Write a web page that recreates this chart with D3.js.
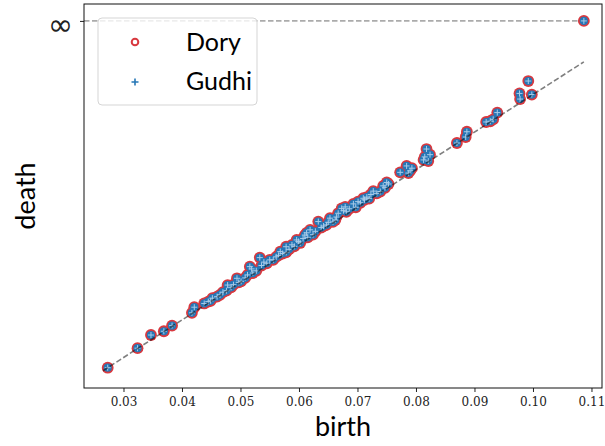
<!DOCTYPE html>
<html>
<head>
<meta charset="utf-8">
<script src="https://cdn.jsdelivr.net/npm/d3@7"></script>
<style>
  body { margin: 0; background: #fff; }
  svg { display: block; }
</style>
</head>
<body>
<div id="chart"></div>
<script>
// persistence pairs (finite ones)
const births = [0.0273, 0.0324, 0.0347, 0.0369, 0.0383, 0.0417, 0.0421, 0.0438, 0.0445, 0.0449,
    0.0460, 0.0465, 0.0476, 0.0478, 0.0484, 0.0494, 0.0501, 0.0508, 0.0516, 0.0521,
    0.0527, 0.0533, 0.0540, 0.0550, 0.0556, 0.0561, 0.0568, 0.0578, 0.0578, 0.0588,
    0.0592, 0.0596, 0.0602, 0.0607, 0.0610, 0.0615, 0.0619, 0.0624, 0.0633, 0.0638,
    0.0647, 0.0653, 0.0658, 0.0662, 0.0667, 0.0673, 0.0679, 0.0681, 0.0693, 0.0697,
    0.0701, 0.0710, 0.0716, 0.0720, 0.0727, 0.0733, 0.0739, 0.0744, 0.0750, 0.0753,
    0.0773, 0.0784, 0.0787, 0.0793, 0.0813, 0.0815, 0.0818, 0.0821, 0.0870, 0.0885,
    0.0887, 0.0920, 0.0927, 0.0932, 0.0939, 0.0977, 0.0978, 0.0992, 0.0998,
    0.0452, 0.0470, 0.0488, 0.0497, 0.0512, 0.0519, 0.0536, 0.0545, 0.0565, 0.0572,
    0.0583, 0.0599, 0.0613, 0.0628, 0.0642, 0.0650, 0.0664, 0.0676, 0.0686, 0.0705,
    0.0712, 0.0723, 0.0747, 0.0790, 0.0824];
const deaths = [0.0273, 0.0325, 0.0360, 0.0370, 0.0385, 0.0419, 0.0434, 0.0444, 0.0449, 0.0451,
    0.0462, 0.0467, 0.0478, 0.0493, 0.0487, 0.0511, 0.0503, 0.0512, 0.0542, 0.0525,
    0.0531, 0.0566, 0.0554, 0.0560, 0.0560, 0.0568, 0.0582, 0.0595, 0.0580, 0.0600,
    0.0596, 0.0613, 0.0605, 0.0617, 0.0626, 0.0620, 0.0640, 0.0627, 0.0662, 0.0646,
    0.0653, 0.0671, 0.0661, 0.0666, 0.0684, 0.0697, 0.0701, 0.0688, 0.0709, 0.0700,
    0.0715, 0.0724, 0.0727, 0.0723, 0.0743, 0.0737, 0.0742, 0.0757, 0.0766, 0.0762,
    0.0793, 0.0810, 0.0791, 0.0804, 0.0826, 0.0834, 0.0855, 0.0823, 0.0871, 0.0887,
    0.0901, 0.0927, 0.0929, 0.0934, 0.0952, 0.1003, 0.0988, 0.1036, 0.1000,
    0.0458, 0.0474, 0.0494, 0.0500, 0.0520, 0.0536, 0.0545, 0.0551, 0.0572, 0.0577,
    0.0588, 0.0609, 0.0632, 0.0636, 0.0650, 0.0660, 0.0674, 0.0691, 0.0696, 0.0712,
    0.0720, 0.0734, 0.0752, 0.0797, 0.0840];
// essential class (dies at infinity)
const infBirths = [0.1087];
const infDeath = 0.1196;   // where "∞" sits on the death axis
const xTicks = [0.03, 0.04, 0.05, 0.06, 0.07, 0.08, 0.09, 0.10, 0.11];
const seriesNames = ["Dory", "Gudhi"];

const W = 605, H = 446;
const margin = { top: 4, right: 3, bottom: 58, left: 84 };

const svg = d3.select("#chart").append("svg")
    .attr("width", W)
    .attr("height", H);

const x = d3.scaleLinear()
    .domain([0.02325, 0.1118])
    .range([margin.left, W - margin.right]);
const y = d3.scaleLinear()
    .domain([0.0219, 0.1241])
    .range([H - margin.bottom, margin.top]);

const red = "#d8393f", blue = "#2677b6";

// points: Dory and Gudhi give the same diagram
let pts = births.map((b, i) => ({ b: b, d: deaths[i] }));
infBirths.forEach(b => pts.push({ b: b, d: infDeath }));

// infinity line
svg.append("line")
    .attr("x1", x.range()[0]).attr("x2", x(infBirths[0]))
    .attr("y1", y(infDeath)).attr("y2", y(infDeath))
    .attr("stroke", "#000")
    .attr("stroke-opacity", 0.33)
    .attr("stroke-width", 1.6)
    .attr("stroke-dasharray", "5.5,2.5");

// Dory rings
svg.append("g").selectAll("circle")
    .data(pts)
    .join("circle")
    .attr("cx", d => x(d.b))
    .attr("cy", d => y(d.d))
    .attr("r", 5.9)
    .attr("fill", red);

svg.append("g").selectAll("circle")
    .data(pts)
    .join("circle")
    .attr("cx", d => x(d.b))
    .attr("cy", d => y(d.d))
    .attr("r", 4.1)
    .attr("fill", blue);

// Gudhi crosses
svg.append("g").selectAll("path")
    .data(pts)
    .join("path")
    .attr("d", d => {
        const cx = x(d.b), cy = y(d.d);
        return `M${cx - 3},${cy}H${cx + 3}M${cx},${cy - 3}V${cy + 3}`;
    })
    .attr("stroke", "#a9cbe8")
    .attr("stroke-width", 1);

// diagonal, drawn over the points
svg.append("line")
    .attr("x1", x(0.0265)).attr("y1", y(0.0265))
    .attr("x2", x(infBirths[0])).attr("y2", y(infBirths[0]))
    .attr("stroke", "#000")
    .attr("stroke-opacity", 0.5)
    .attr("stroke-width", 1.6)
    .attr("stroke-dasharray", "5.5,2.5");

// x axis
const xAxis = svg.append("g")
    .attr("transform", `translate(0,${H - margin.bottom})`)
    .call(d3.axisBottom(x).tickValues(xTicks).tickFormat(d3.format(".2f")).tickSize(4).tickPadding(5.5));
xAxis.select(".domain").remove();
xAxis.selectAll("text")
    .style("font-family", "'DejaVu Serif', 'Liberation Serif', serif")
    .style("font-size", "12px")
    .attr("fill", "#222");
xAxis.selectAll("line").attr("stroke", "#222");

// y axis: only the infinity tick
const yAxis = svg.append("g")
    .attr("transform", `translate(${margin.left},0)`)
    .call(d3.axisLeft(y).tickValues([infDeath]).tickFormat(() => "∞").tickSize(4).tickPadding(7));
yAxis.select(".domain").remove();
yAxis.selectAll("text")
    .attr("dy", "0.46em")
    .style("font-family", "'DejaVu Sans', sans-serif")
    .style("font-size", "30px")
    .attr("fill", "#222");
yAxis.selectAll("line").attr("stroke", "#222");

// frame
svg.append("rect")
    .attr("x", margin.left).attr("y", margin.top)
    .attr("width", W - margin.right - margin.left)
    .attr("height", H - margin.bottom - margin.top)
    .attr("fill", "none")
    .attr("stroke", "#111")
    .attr("stroke-width", 1);

// axis labels
svg.append("text")
    .attr("x", (margin.left + W - margin.right) / 2)
    .attr("y", 436)
    .attr("text-anchor", "middle")
    .style("font-family", "Lato, sans-serif")
    .style("font-size", "27px")
    .text("birth");

svg.append("text")
    .attr("transform", `translate(35,${(margin.top + H - margin.bottom) / 2}) rotate(-90)`)
    .attr("text-anchor", "middle")
    .style("font-family", "Lato, sans-serif")
    .style("font-size", "27px")
    .text("death");

// legend
const legend = svg.append("g");
legend.append("rect")
    .attr("x", 98).attr("y", 18)
    .attr("width", 159).attr("height", 87)
    .attr("rx", 4)
    .attr("fill", "#fff")
    .attr("fill-opacity", 0.8)
    .attr("stroke", "#d5d5d5");

legend.append("circle")
    .attr("cx", 135).attr("cy", 42)
    .attr("r", 3.3)
    .attr("fill", "none")
    .attr("stroke", red)
    .attr("stroke-width", 2);

legend.append("path")
    .attr("d", "M131.5,82H138.5M135,78.5V85.5")
    .attr("stroke", blue)
    .attr("stroke-width", 1.6);

legend.selectAll("text.lab")
    .data(seriesNames)
    .join("text")
    .attr("class", "lab")
    .attr("x", 186)
    .attr("y", (d, i) => 51 + i * 38.5)
    .style("font-family", "Lato, sans-serif")
    .style("font-size", "25px")
    .text(d => d);
</script>
</body>
</html>
